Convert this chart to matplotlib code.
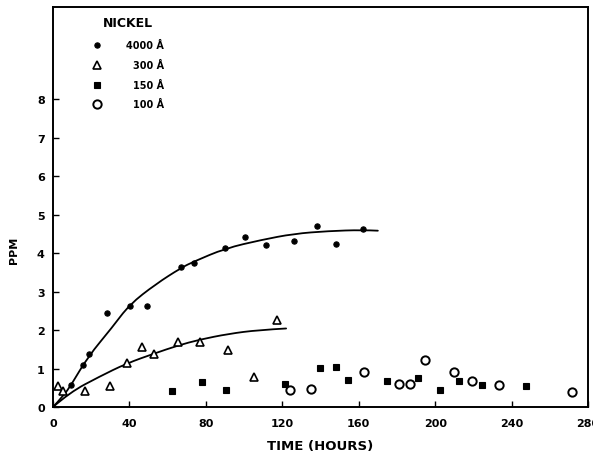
import matplotlib
matplotlib.use("Agg")
import matplotlib.pyplot as plt
from matplotlib.path import Path
from matplotlib.patches import PathPatch

# Nickel release (ppm) versus time (hours) for four film thicknesses
t_4000 = [9.6, 15.6, 18.7, 28.2, 40.1, 49.4, 67.2, 73.8, 90.1, 100.5, 111.5, 126.3, 138.1, 148.1, 162.2]
ppm_4000 = [0.56, 1.09, 1.39, 2.43, 2.63, 2.62, 3.64, 3.75, 4.12, 4.41, 4.22, 4.32, 4.69, 4.23, 4.62]

t_300 = [2.7, 5.0, 16.5, 29.9, 38.9, 46.7, 53.0, 65.5, 76.7, 91.8, 105.0, 117.0]
ppm_300 = [0.54, 0.41, 0.41, 0.54, 1.15, 1.55, 1.37, 1.69, 1.69, 1.48, 0.79, 2.27]

t_150 = [62.2, 78.0, 90.4, 121.2, 139.8, 148.0, 154.6, 175.0, 191.0, 202.4, 212.3, 224.3, 247.4]
ppm_150 = [0.41, 0.64, 0.43, 0.60, 1.02, 1.04, 0.70, 0.67, 0.76, 0.45, 0.67, 0.56, 0.54]

t_100 = [124.2, 135.0, 162.7, 181.0, 187.0, 194.8, 209.7, 219.1, 233.4, 271.5]
ppm_100 = [0.43, 0.47, 0.90, 0.59, 0.59, 1.21, 0.91, 0.67, 0.58, 0.39]

# Hand-drawn trend curves (control vertices)
curve_4000_t = [0, 5.4, 9.6, 18.2, 31.0, 40.0, 53.7, 67.2, 73.8, 90.1, 109.0, 126.0, 144.0, 162.0, 170.0]
curve_4000_y = [0, 0.29, 0.58, 1.30, 2.07, 2.66, 3.19, 3.62, 3.78, 4.12, 4.34, 4.50, 4.57, 4.60, 4.58]

curve_300_t = [0, 8.8, 24.3, 38.4, 53.0, 65.5, 76.7, 91.8, 107.5, 122.0]
curve_300_y = [0, 0.38, 0.79, 1.13, 1.39, 1.60, 1.75, 1.90, 2.00, 2.04]

x_ticks = [0, 40, 80, 120, 160, 200, 240, 280]
y_ticks = [0, 1, 2, 3, 4, 5, 6, 7, 8]

legend_title = "NICKEL"
legend_labels = ["4000 Å", "300 Å", "150 Å", "100 Å"]


def smooth_curve(xs, ys):
    """Quadratic Bezier path through segment midpoints, using the vertices as controls."""
    pts = list(zip(xs, ys))
    verts = [pts[0]]
    codes = [Path.MOVETO]
    for i in range(1, len(pts) - 1):
        mid = ((pts[i][0] + pts[i + 1][0]) / 2, (pts[i][1] + pts[i + 1][1]) / 2)
        if i == len(pts) - 2:
            mid = pts[-1]
        verts += [pts[i], mid]
        codes += [Path.CURVE3, Path.CURVE3]
    return Path(verts, codes)


plt.rcParams["font.family"] = ["DejaVu Sans"]
plt.rcParams["font.weight"] = "bold"

fig = plt.figure(figsize=(5.93, 4.60), dpi=100)
ax = fig.add_axes([0.0894, 0.113, 0.9022, 0.8696])

for cx, cy in [(curve_4000_t, curve_4000_y), (curve_300_t, curve_300_y)]:
    ax.add_patch(PathPatch(smooth_curve(cx, cy), fill=False, edgecolor="black",
                           lw=1.3, capstyle="round"))

styles = [
    dict(marker="o", ms=3.8, mfc="black", mec="black", mew=0.8),
    dict(marker="^", ms=5.2, mfc="white", mec="black", mew=1.2),
    dict(marker="s", ms=4.3, mfc="black", mec="black", mew=0.8),
    dict(marker="o", ms=6.0, mfc="white", mec="black", mew=1.4),
]
series = [(t_4000, ppm_4000), (t_300, ppm_300), (t_150, ppm_150), (t_100, ppm_100)]
for (tx, ty), st in zip(series, styles):
    ax.plot(tx, ty, ls="none", clip_on=False, zorder=3, **st)

ax.set_xlim(0, 280)
ax.set_ylim(0, 10.39)
ax.set_xticks(x_ticks)
ax.set_yticks(y_ticks)
ax.tick_params(direction="in", length=4, width=1.0, labelsize=8, pad=6)
ax.tick_params(axis="x", pad=8)
for s in ax.spines.values():
    s.set_linewidth(1.4)

ax.set_xlabel("TIME (HOURS)", fontsize=9.5, fontweight="bold", labelpad=8)
fig.text(0.024, 0.455, "PPM", rotation=90, ha="center", va="center",
         fontsize=8, fontweight="bold")

# Legend block
ax.text(0.14, 0.9625, legend_title, transform=ax.transAxes, ha="center", va="center",
        fontsize=9, fontweight="bold")
rows_y = [0.905, 0.855, 0.805, 0.757]
for yy, lab, st in zip(rows_y, legend_labels, styles):
    ax.plot([0.082], [yy], transform=ax.transAxes, ls="none", clip_on=False, **st)
    ax.text(0.208, yy, lab, transform=ax.transAxes, ha="right", va="center",
            fontsize=7, fontweight="bold")

fig.savefig("out.png", dpi=100)
